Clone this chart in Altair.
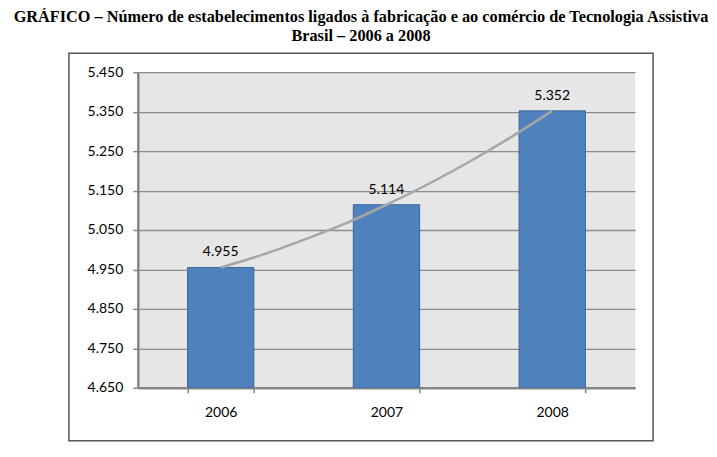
import altair as alt
import pandas as pd

years = ["2006", "2007", "2008"]
values = [4955, 5114, 5352]
labels = ["4.955", "5.114", "5.352"]

# trend line (position in category units, value)
trend_pos = [0, 0.25, 0.5, 0.75, 1, 1.25, 1.5, 1.75, 2]
trend_val = [4955, 4987, 5025, 5066, 5114, 5166, 5223, 5285, 5352]

y_ticks = [4650, 4750, 4850, 4950, 5050, 5150, 5250, 5350, 5450]

title_lines = [
    "GRÁFICO – Número de estabelecimentos ligados à fabricação e ao comércio de Tecnologia Assistiva",
    "Brasil – 2006 a 2008",
]

bars_df = pd.DataFrame({"ano": years, "valor": values, "rotulo": labels})
trend_df = pd.DataFrame({"pos": trend_pos, "valor": trend_val})

yscale = alt.Scale(domain=[4650, 5450], nice=False, zero=False)
yaxis = alt.Axis(
    values=y_ticks,
    labelExpr="replace(format(datum.value, ','), ',', '.')",
    labelOverlap=False,
    title=None,
    domainColor="#868686", domainWidth=2.5,
    tickColor="#868686", tickWidth=1.5, tickSize=5,
    labelPadding=10, labelFont="Lato", labelFontSize=14, labelColor="#000000",
    gridColor="#8c8c8c", gridWidth=1.3,
)

xaxis = alt.Axis(
    title=None, labelAngle=0, grid=False,
    tickBand="extent",
    domainColor="#868686", domainWidth=2.5,
    tickColor="#868686", tickWidth=1.5, tickSize=5,
    labelPadding=13, labelFont="Lato", labelFontSize=14, labelColor="#000000",
)

xscale = alt.Scale(paddingInner=0.6, paddingOuter=0.3)

frame = alt.Chart(pd.DataFrame({"k": [0]})).mark_rect(
    fill=None, stroke="#555555", strokeWidth=1.5
).encode(
    x=alt.value(-69), x2=alt.value(516), y=alt.value(-19), y2=alt.value(369)
)

bars = alt.Chart(bars_df).mark_bar(
    color="#4F81BD", stroke="#3A679C", strokeWidth=1, clip=True
).encode(
    x=alt.X("ano:N", scale=xscale, axis=xaxis, sort=years),
    y=alt.Y("valor:Q", scale=yscale, axis=yaxis),
    y2=alt.datum(4650),
)

trend = alt.Chart(trend_df).mark_line(
    color="#A6A6A6", strokeWidth=2.5, interpolate="monotone"
).encode(
    x=alt.X("pos:Q", scale=alt.Scale(domain=[-0.5, 2.5], nice=False, zero=False), axis=None),
    y=alt.Y("valor:Q", scale=yscale, axis=yaxis),
)

text = alt.Chart(bars_df).mark_text(
    font="Lato", fontSize=14, color="#000000", baseline="alphabetic", dy=-11
).encode(
    x=alt.X("ano:N", scale=xscale, sort=years, axis=None),
    y=alt.Y("valor:Q", scale=yscale, axis=yaxis),
    text="rotulo:N",
)

chart = alt.layer(frame, bars, trend, text).resolve_scale(x="independent").properties(
    width=498,
    height=316,
    padding={"left": 5, "top": 0, "right": 0, "bottom": 0},
    title=alt.TitleParams(
        text=title_lines, font="Liberation Serif", fontSize=16.3, fontWeight="bold",
        lineHeight=19, anchor="middle", frame="bounds", offset=8, color="#000000",
    ),
).configure(background="white").configure_view(fill="#E6E6E6", strokeWidth=0)

chart.save("out.html", embed_options={"renderer": "svg", "actions": False})
